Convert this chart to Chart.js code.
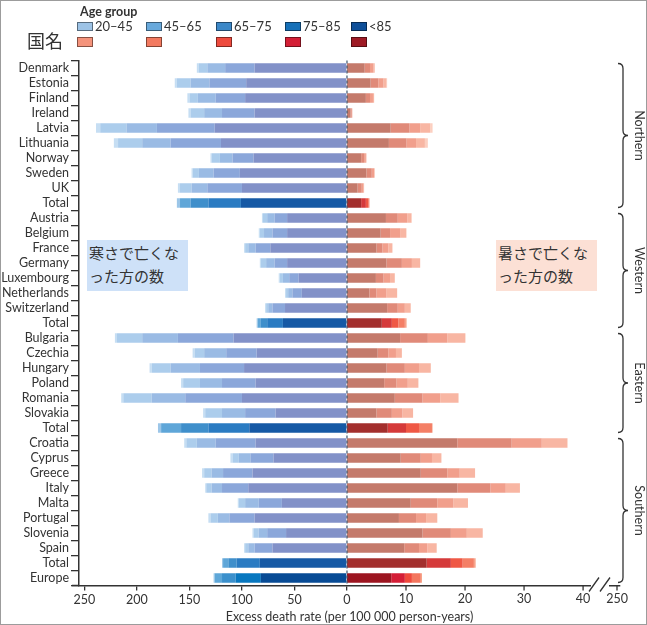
<!DOCTYPE html>
<html lang="ja">
<head>
<meta charset="utf-8">
<title>Excess death rate by age group</title>
<script src="https://cdn.jsdelivr.net/npm/chart.js@4.4.1/dist/chart.umd.min.js"></script>
<style>
  html, body { margin: 0; padding: 0; background: #fff; }
  #wrap { position: relative; width: 647px; height: 625px; font-family: Lato, sans-serif; color: #333; overflow: hidden; }
  #chart { position: absolute; left: 0; top: 0; }
  #frame { position: absolute; left: 0; top: 0; right: 0; bottom: 0; border: 1px solid #9c9c9c; pointer-events: none; }
  .abs { position: absolute; white-space: nowrap; }
  #ageTitle { left: 80px; top: 5px; font-size: 12.5px; line-height: 13px; font-weight: bold; }
  #country { left: 27px; top: 31px; font-size: 18px; line-height: 18px; font-family: "Noto Sans CJK JP", sans-serif; }
  .box { position: absolute; width: 16px; border: 1px solid rgba(0,0,0,0.45); box-sizing: border-box; }
  .lab { position: absolute; font-size: 13px; line-height: 13px; }
  .note { position: absolute; width: 101px; height: 51px; font-family: "Noto Sans CJK JP", sans-serif;
          font-size: 15px; line-height: 23px; padding: 1px 0 0 2px; box-sizing: border-box; color: #333; }
  #coldNote { left: 87px; top: 240px; background: #cee1f8; }
  #heatNote { left: 496px; top: 240px; background: #fce0d5; }
</style>
</head>
<body>
<div id="wrap">
  <canvas id="chart" width="647" height="625"></canvas>
  <div id="ageTitle" class="abs">Age group</div>
  <div id="country" class="abs">国名</div>
  <div id="legend"></div>
  <div id="coldNote" class="note">寒さで亡くな<br>った方の数</div>
  <div id="heatNote" class="note">暑さで亡くな<br>った方の数</div>
  <div id="frame"></div>
</div>
<script>
// rows, top to bottom
const labels = ['Denmark', 'Estonia', 'Finland', 'Ireland', 'Latvia', 'Lithuania', 'Norway', 'Sweden', 'UK', 'Total',
  'Austria', 'Belgium', 'France', 'Germany', 'Luxembourg', 'Netherlands', 'Switzerland', 'Total',
  'Bulgaria', 'Czechia', 'Hungary', 'Poland', 'Romania', 'Slovakia', 'Total',
  'Croatia', 'Cyprus', 'Greece', 'Italy', 'Malta', 'Portugal', 'Slovenia', 'Spain', 'Total',
  'Europe'];

const regions = ['Northern', 'Western', 'Eastern', 'Southern'];
const regionFirstRow = [0, 10, 18, 25];
const regionLastRow = [9, 17, 24, 34];

const ageGroups = ['20–45', '45–65', '65–75', '75–85', '<85'];

// cold-related excess deaths (drawn to the left)
const cold85plus = [88, 96, 97, 88, 126, 120, 89, 102, 100, 101,
  57, 57, 73, 57, 46, 43, 59, 61,
  108, 86, 98, 87, 100, 68, 93,
  87, 70, 90, 94, 62, 88, 58, 71, 83,
  82];
const cold75to85 = [28, 35, 28, 31, 55, 48, 20, 25, 33, 31,
  12, 14, 14, 12, 9, 9, 12, 15,
  53, 29, 42, 32, 54, 29, 39,
  38, 22, 28, 25, 22, 24, 18, 17, 22,
  24];
const cold65to75 = [17, 18, 17, 17, 29, 27, 12, 14, 15, 17,
  7, 8, 7, 8, 6, 4, 4, 6,
  34, 21, 28, 21, 32, 22, 26,
  18, 11, 11, 10, 13, 11, 8, 6, 8,
  13];
const cold45to65 = [8, 13, 8, 13, 25, 23, 8, 6, 11, 10,
  4, 4, 3, 5, 3, 2, 2, 3,
  24, 9, 18, 16, 27, 16, 19,
  10, 6, 7, 5, 6, 7, 5, 3, 5,
  7];
const cold20to45 = [2, 2, 2, 2, 4, 4, 1, 1, 2, 3,
  1, 1, 1, 1, 1, 1, 1, 1,
  2, 2, 2, 2, 2, 2, 3,
  2, 2, 2, 1, 1, 2, 1, 1, 1,
  1];

// heat-related excess deaths (drawn to the right)
const heat85plus = [3.0, 4.0, 3.2, 0.6, 7.4, 7.1, 2.4, 3.3, 1.8, 2.4,
  6.6, 5.7, 5.0, 6.7, 4.9, 3.8, 6.8, 5.9,
  9.0, 5.2, 6.7, 6.3, 8.1, 5.0, 6.9,
  18.7, 9.1, 12.5, 18.7, 10.8, 8.8, 12.8, 9.7, 13.5,
  7.5];
const heat75to85 = [0.9, 1.3, 0.7, 0.2, 3.2, 3.0, 0.5, 0.9, 0.7, 0.8,
  2.0, 1.6, 1.0, 2.6, 1.3, 1.2, 1.8, 1.7,
  4.7, 1.8, 3.1, 2.1, 4.7, 2.6, 3.1,
  9.2, 3.4, 4.5, 5.6, 4.5, 2.9, 4.8, 2.5, 4.1,
  2.3];
const heat65to75 = [0.6, 0.9, 0.5, 0.1, 1.8, 1.6, 0.3, 0.4, 0.3, 0.4,
  1.6, 1.7, 1.0, 1.7, 1.1, 1.7, 1.2, 1.1,
  3.3, 1.3, 2.4, 1.9, 3.0, 1.8, 2.2,
  5.1, 1.9, 2.1, 2.6, 2.7, 1.7, 2.7, 1.4, 2.0,
  1.2];
const heat45to65 = [0.2, 0.5, 0.2, 0.0, 1.7, 1.5, 0.1, 0.1, 0.1, 0.2,
  0.7, 1.0, 0.7, 1.4, 0.8, 1.8, 1.0, 1.1,
  3.0, 1.0, 2.0, 1.8, 3.1, 1.8, 2.2,
  4.3, 1.6, 2.6, 2.4, 2.5, 1.9, 2.7, 1.6, 1.9,
  1.5];
const heat20to45 = [0.0, 0.1, 0.0, 0.0, 0.4, 0.5, 0.0, 0.0, 0.0, 0.0,
  0.1, 0.1, 0.0, 0.0, 0.0, 0.0, 0.0, 0.3,
  0.1, 0.0, 0.0, 0.0, 0.0, 0.0, 0.1,
  0.1, 0.0, 0.0, 0.0, 0.0, 0.0, 0.0, 0.0, 0.3,
  0.2];

const coldTicks = [250, 200, 150, 100, 50, 0];
const heatTicks = [10, 20, 30, 40];
const heatEndLabel = '250';

// colours, inner (<85) to outer (20-45)
const coldCountry = ['#8291c8', '#8ba7da', '#9abbe4', '#accdec', '#c6def3'];
const coldTotal = ['#1659a5', '#2a7bc2', '#3f8fcb', '#5fa6d8', '#9cc6e8'];
const coldEurope = ['#084b95', '#0877bf', '#3b90cc', '#5ea7d8', '#9ac6e8'];
const heatCountry = ['#c47a6b', '#e08a79', '#f19f8c', '#f8b6a3', '#fccfc0'];
const heatTotal = ['#a32f2d', '#d53a3a', '#ef5845', '#f47f66', '#f7a48b'];
const heatEurope = ['#9c1520', '#d41e36', '#ef4a3c', '#f3765e', '#f6a082'];
// legend colours, left to right (20-45 ... <85)
const coldLegend = ['#9dc3e6', '#68a9dc', '#3c88c8', '#1670b8', '#0e4f99'];
const heatLegend = ['#f4937b', '#f37a60', '#ee4b3e', '#d41f36', '#9e1a25'];

// axis ranges: both value axes share the zero pixel
const coldMin = -255.2, coldMax = 260;
const heatMin = -45.4;
const heatMax = heatMin * coldMax / coldMin;

const font = { family: 'Lato', size: 12.5 };
const ink = '#333';

// legend
const legendX = [77, 146, 216, 285, 351];
const legendDiv = document.getElementById('legend');
ageGroups.forEach(function(g, i) {
  const b1 = document.createElement('div');
  b1.className = 'box';
  b1.style.cssText = `left:${legendX[i]}px;top:22px;height:9px;background:${coldLegend[i]}`;
  legendDiv.appendChild(b1);
  const l = document.createElement('div');
  l.className = 'lab';
  l.style.cssText = `left:${legendX[i] + 18}px;top:20px`;
  l.textContent = g;
  legendDiv.appendChild(l);
  const b2 = document.createElement('div');
  b2.className = 'box';
  b2.style.cssText = `left:${legendX[i]}px;top:37px;height:10px;background:${heatLegend[i]}`;
  legendDiv.appendChild(b2);
});

function rowPalette(idx, country, total, europe) {
  if (labels[idx] === 'Europe') return europe;
  if (labels[idx] === 'Total') return total;
  return country;
}

const coldSeries = [cold85plus, cold75to85, cold65to75, cold45to65, cold20to45];
const heatSeries = [heat85plus, heat75to85, heat65to75, heat45to65, heat20to45];
const seriesNames = ['<85', '75–85', '65–75', '45–65', '20–45'];

const datasets = [];
coldSeries.forEach(function(s, k) {
  datasets.push({
    label: 'cold ' + seriesNames[k],
    data: s.map(v => -v),
    xAxisID: 'xc',
    stack: 'row',
    backgroundColor: ctx => rowPalette(ctx.dataIndex, coldCountry, coldTotal, coldEurope)[k],
    borderWidth: 0,
    barPercentage: 0.64,
    categoryPercentage: 1
  });
});
heatSeries.forEach(function(s, k) {
  datasets.push({
    label: 'heat ' + seriesNames[k],
    data: s,
    xAxisID: 'xh',
    stack: 'row',
    backgroundColor: ctx => rowPalette(ctx.dataIndex, heatCountry, heatTotal, heatEurope)[k],
    borderWidth: 0,
    barPercentage: 0.64,
    categoryPercentage: 1
  });
});

const decor = {
  id: 'decor',
  afterDatasetsDraw(chart) {
    const { ctx, chartArea } = chart;
    const x0 = chart.scales.xc.getPixelForValue(0);
    ctx.save();
    ctx.strokeStyle = '#3b5670';
    ctx.lineWidth = 1.2;
    ctx.setLineDash([3, 2]);
    ctx.beginPath();
    ctx.moveTo(x0, chartArea.top);
    ctx.lineTo(x0, chartArea.bottom);
    ctx.stroke();
    ctx.restore();
  },
  afterDraw(chart) {
    const { ctx, chartArea } = chart;
    const xh = chart.scales.xh;
    const y = chart.scales.y;
    const yb = chartArea.bottom;
    ctx.save();
    ctx.strokeStyle = ink;
    ctx.fillStyle = ink;
    ctx.lineWidth = 1.3;
    ctx.font = '12.5px Lato';
    ctx.textAlign = 'center';
    ctx.textBaseline = 'top';

    // heat side ticks
    heatTicks.forEach(function(v) {
      const px = xh.getPixelForValue(v);
      ctx.beginPath();
      ctx.moveTo(px, yb);
      ctx.lineTo(px, yb + 5);
      ctx.stroke();
      ctx.fillText(String(v), px, yb + 7);
    });
    const xEnd = chartArea.right - 3;
    ctx.beginPath();
    ctx.moveTo(xEnd, yb);
    ctx.lineTo(xEnd, yb + 5);
    ctx.stroke();
    ctx.fillText(heatEndLabel, xEnd, yb + 7);

    // axis break
    ctx.fillStyle = '#fff';
    ctx.fillRect(chartArea.right - 29, yb - 2, 18, 4);
    ctx.beginPath();
    ctx.moveTo(chartArea.right - 31, yb + 6);
    ctx.lineTo(chartArea.right - 21, yb - 8);
    ctx.moveTo(chartArea.right - 20, yb + 6);
    ctx.lineTo(chartArea.right - 10, yb - 8);
    ctx.stroke();

    // left stub of x axis
    ctx.lineWidth = 1.5;
    ctx.beginPath();
    ctx.moveTo(chartArea.left - 7, yb);
    ctx.lineTo(chartArea.left, yb);
    ctx.stroke();

    // region braces
    const half = (y.getPixelForValue(1) - y.getPixelForValue(0)) / 2;
    const xl = chartArea.right - 2, xv = chartArea.right + 3, xc = chartArea.right + 8;
    ctx.lineWidth = 1.3;
    ctx.fillStyle = ink;
    regions.forEach(function(name, i) {
      const y0 = y.getPixelForValue(regionFirstRow[i]) - half + 3;
      const y1 = y.getPixelForValue(regionLastRow[i]) + half - 3;
      const ym = (y0 + y1) / 2;
      ctx.beginPath();
      ctx.moveTo(xl, y0);
      ctx.quadraticCurveTo(xv, y0, xv, y0 + 5);
      ctx.lineTo(xv, ym - 5);
      ctx.quadraticCurveTo(xv, ym, xc, ym);
      ctx.quadraticCurveTo(xv, ym, xv, ym + 5);
      ctx.lineTo(xv, y1 - 5);
      ctx.quadraticCurveTo(xv, y1, xl, y1);
      ctx.stroke();

      ctx.save();
      ctx.translate(chartArea.right + 19, ym);
      ctx.rotate(Math.PI / 2);
      ctx.textAlign = 'center';
      ctx.textBaseline = 'middle';
      ctx.fillText(name, 0, 0);
      ctx.restore();
    });
    ctx.restore();
  }
};

new Chart(document.getElementById('chart'), {
  type: 'bar',
  data: { labels: labels, datasets: datasets },
  options: {
    indexAxis: 'y',
    responsive: false,
    animation: false,
    layout: { padding: { top: 60.5, right: 27, left: 0, bottom: 0 } },
    plugins: { legend: { display: false }, tooltip: { enabled: false } },
    scales: {
      y: {
        stacked: true,
        afterFit: s => { s.width = 79; },
        grid: { drawOnChartArea: false, drawTicks: true, tickLength: 8, color: ink, lineWidth: 1.3, offset: true },
        border: { display: true, color: ink, width: 1.5 },
        ticks: { color: ink, font: font, padding: 2, autoSkip: false }
      },
      xc: {
        type: 'linear',
        position: 'bottom',
        stacked: true,
        min: coldMin,
        max: coldMax,
        afterBuildTicks: s => { s.ticks = coldTicks.map(v => ({ value: -v })); },
        afterFit: s => { s.height = 39.5; },
        grid: { drawOnChartArea: false, drawTicks: true, tickLength: 5, color: ink, lineWidth: 1.3 },
        border: { display: true, color: ink, width: 1.5 },
        ticks: { color: ink, font: font, padding: 2, autoSkip: false, maxRotation: 0,
                 callback: v => String(Math.abs(v)) },
        title: { display: true, text: 'Excess death rate (per 100 000 person-years)', color: ink,
                 font: { family: 'Lato', size: 12.5 }, padding: { top: 0, bottom: 1 } }
      },
      xh: {
        type: 'linear',
        display: false,
        stacked: true,
        min: heatMin,
        max: heatMax
      }
    }
  },
  plugins: [decor]
});
</script>
</body>
</html>
